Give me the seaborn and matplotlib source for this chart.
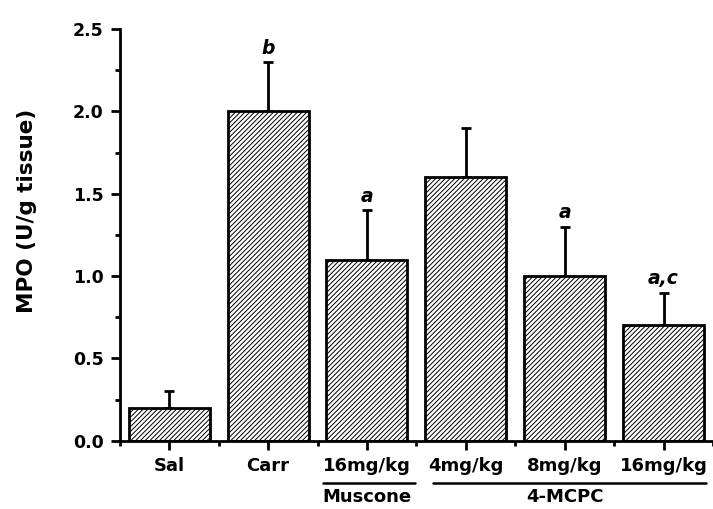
import matplotlib
matplotlib.use("Agg")
import matplotlib.pyplot as plt
import seaborn as sns
import pandas as pd
from matplotlib.ticker import MultipleLocator

groups = ["Sal", "Carr", "16mg/kg ", "4mg/kg", "8mg/kg", "16mg/kg"]
tick_labels = ["Sal", "Carr", "16mg/kg", "4mg/kg", "8mg/kg", "16mg/kg"]
mpo = [0.2, 2.0, 1.1, 1.6, 1.0, 0.7]
sem = [0.1, 0.3, 0.3, 0.3, 0.3, 0.2]
sig = ["", "b", "a", "", "a", "a,c"]

sns.set_style("ticks")
plt.rcParams["font.family"] = ["DejaVu Sans"]
plt.rcParams["hatch.linewidth"] = 0.7
plt.rcParams["hatch.color"] = "#333333"
for k in ["text.color", "axes.labelcolor", "xtick.color", "ytick.color",
          "axes.edgecolor"]:
    plt.rcParams[k] = "black"

HATCH = "///////"

df = pd.DataFrame({"group": groups, "mpo": mpo})

fig = plt.figure(figsize=(7.13, 5.09), dpi=100)
ax = fig.add_axes([0.168, 0.134, 0.832, 0.809])

sns.barplot(data=df, x="group", y="mpo", order=groups, color="white",
            edgecolor="black", linewidth=2, width=0.82, hatch=HATCH,
            errorbar=None, ax=ax)
for p in ax.patches:
    p.set_facecolor("white")
    p.set_hatch(HATCH)

xs = list(range(len(groups)))
ax.errorbar(xs, mpo, yerr=[[0]*len(sem), sem], fmt="none", ecolor="black",
            elinewidth=2, capsize=3.8, capthick=2, zorder=0)

for x, v, e, s in zip(xs, mpo, sem, sig):
    if s:
        ax.text(x, v + e + 0.05, s, ha="center", va="baseline",
                fontsize=13.5, fontweight="bold", fontstyle="italic")

ax.set_xlim(-0.5, 5.5)
ax.set_ylim(0, 2.5)
ax.yaxis.set_major_locator(MultipleLocator(0.5))
ax.yaxis.set_minor_locator(MultipleLocator(0.25))
ax.set_xticks(xs)
ax.set_xticklabels(tick_labels, fontsize=13, fontweight="bold")
ax.set_xticks([x + 0.5 for x in range(-1, len(groups))], minor=True)
ax.tick_params(axis="both", which="major", length=6.5, width=2, direction="out")
ax.tick_params(axis="both", which="minor", length=3.8, width=2, direction="out")
ax.tick_params(axis="x", which="major", pad=5)
ax.tick_params(axis="y", which="major", labelsize=12.5, pad=5)
for lab in ax.get_yticklabels():
    lab.set_fontweight("bold")
ax.set_xlabel("")
ax.set_ylabel("MPO (U/g tissue)", fontsize=15.5, fontweight="bold")
ax.yaxis.set_label_coords(-0.14, 0.558)

for side in ["top", "right"]:
    ax.spines[side].set_visible(False)
for side in ["left", "bottom"]:
    ax.spines[side].set_linewidth(2)

# group labels below the ticks
trans = ax.get_xaxis_transform()
ax.plot([1.56, 2.49], [-0.102, -0.102], color="black", lw=1.8,
        transform=trans, clip_on=False)
ax.plot([2.67, 5.43], [-0.102, -0.102], color="black", lw=1.8,
        transform=trans, clip_on=False)
ax.text(2.0, -0.158, "Muscone", transform=trans, ha="center", va="bottom",
        fontsize=13, fontweight="bold")
ax.text(4.0, -0.158, "4-MCPC", transform=trans, ha="center", va="bottom",
        fontsize=13, fontweight="bold")

fig.savefig("out.png", dpi=100)
